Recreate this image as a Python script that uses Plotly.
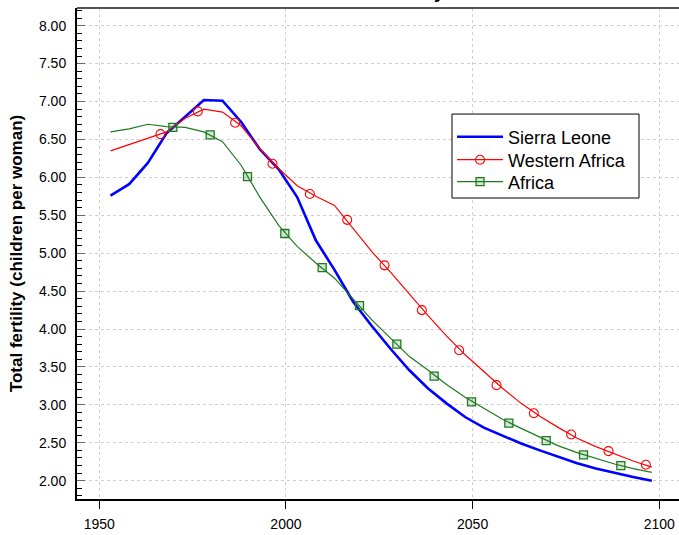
import plotly.graph_objects as go

# ---- data ----
years = [1953, 1958, 1963, 1968, 1973, 1978, 1983, 1988, 1993, 1998,
         2003, 2008, 2013, 2018, 2023, 2028, 2033, 2038, 2043, 2048,
         2053, 2058, 2063, 2068, 2073, 2078, 2083, 2088, 2093, 2098]

sierra_leone = [5.76, 5.91, 6.19, 6.58, 6.80, 7.02, 7.01, 6.73, 6.37, 6.11,
                5.74, 5.17, 4.78, 4.36, 4.04, 3.74, 3.46, 3.22, 3.02, 2.84,
                2.70, 2.59, 2.49, 2.40, 2.31, 2.23, 2.16, 2.10, 2.05, 2.00]

western_africa = [6.35, 6.43, 6.52, 6.60, 6.78, 6.90, 6.86, 6.68, 6.38, 6.12,
                  5.89, 5.75, 5.63, 5.33, 5.02, 4.75, 4.46, 4.18, 3.91, 3.66,
                  3.44, 3.22, 3.02, 2.85, 2.70, 2.56, 2.45, 2.35, 2.26, 2.18]

africa = [6.60, 6.64, 6.70, 6.67, 6.66, 6.60, 6.47, 6.16, 5.74, 5.37,
          5.09, 4.87, 4.67, 4.40, 4.12, 3.88, 3.64, 3.46, 3.27, 3.10,
          2.95, 2.81, 2.69, 2.58, 2.46, 2.37, 2.29, 2.22, 2.16, 2.11]

# marker positions as drawn in the picture
wa_marker_years = [1966.4, 1976.4, 1986.4, 1996.4, 2006.4, 2016.4, 2026.4,
                   2036.4, 2046.4, 2056.4, 2066.4, 2076.4, 2086.4, 2096.4]
wa_marker_vals = [6.57, 6.87, 6.72, 6.18, 5.78, 5.44, 4.84,
                  4.25, 3.72, 3.26, 2.89, 2.61, 2.39, 2.21]

af_marker_years = [1969.7, 1979.7, 1989.7, 1999.7, 2009.7, 2019.7, 2029.7,
                   2039.7, 2049.7, 2059.7, 2069.7, 2079.7, 2089.7]
af_marker_vals = [6.66, 6.56, 6.01, 5.26, 4.81, 4.31, 3.80,
                  3.38, 3.04, 2.76, 2.53, 2.34, 2.20]

series_names = ["Sierra Leone", "Western Africa", "Africa"]
x_ticks = [1950, 2000, 2050, 2100]
title_text = "Total fertility"
y_title = "Total fertility (children per woman)"

# ---- styles ----
BLUE = "#0000FF"
RED = "#FF0000"
GREEN = "#1F7A1F"
FONT = "Liberation Sans, Arial, sans-serif"

fig = go.Figure()

# lines
fig.add_trace(go.Scatter(x=years, y=sierra_leone, mode="lines",
                         line=dict(color=BLUE, width=2.6), showlegend=False,
                         hoverinfo="skip"))
fig.add_trace(go.Scatter(x=years, y=western_africa, mode="lines",
                         line=dict(color=RED, width=1.2), showlegend=False,
                         hoverinfo="skip"))
fig.add_trace(go.Scatter(x=years, y=africa, mode="lines",
                         line=dict(color=GREEN, width=1.2), showlegend=False,
                         hoverinfo="skip"))

# markers
fig.add_trace(go.Scatter(x=wa_marker_years, y=wa_marker_vals, mode="markers",
                         marker=dict(symbol="circle-open", size=9, color=RED,
                                     line=dict(width=1.1, color=RED)),
                         showlegend=False, hoverinfo="skip"))
fig.add_trace(go.Scatter(x=af_marker_years, y=af_marker_vals, mode="markers",
                         marker=dict(symbol="square", size=8,
                                     color="rgba(31,122,31,0.18)",
                                     line=dict(width=1.3, color=GREEN)),
                         showlegend=False, hoverinfo="skip"))

# legend entries (one compact legend per row, framed by one box)
fig.add_trace(go.Scatter(x=[None], y=[None], mode="lines", name=series_names[0],
                         line=dict(color=BLUE, width=2.6), legend="legend"))
fig.add_trace(go.Scatter(x=[None], y=[None], mode="lines+markers", name=series_names[1],
                         line=dict(color=RED, width=1.2), legend="legend2",
                         marker=dict(symbol="circle-open", size=9, color=RED,
                                     line=dict(width=1.1, color=RED))))
fig.add_trace(go.Scatter(x=[None], y=[None], mode="lines+markers", name=series_names[2],
                         line=dict(color=GREEN, width=1.2), legend="legend3",
                         marker=dict(symbol="square", size=8,
                                     color="rgba(31,122,31,0.18)",
                                     line=dict(width=1.3, color=GREEN))))

legend_common = dict(x=0.623, xanchor="left", yanchor="middle",
                     bgcolor="rgba(0,0,0,0)", borderwidth=0,
                     font=dict(family=FONT, size=18, color="black"),
                     itemwidth=46)

fig.update_layout(
    width=679, height=535,
    margin=dict(l=77, r=0, t=8, b=36, pad=0, autoexpand=False),
    paper_bgcolor="white", plot_bgcolor="white",
    font=dict(family=FONT, size=14, color="black"),
    showlegend=True,
    legend=dict(y=0.7373, **legend_common),
    legend2=dict(y=0.6904, **legend_common),
    legend3=dict(y=0.6456, **legend_common),
    xaxis=dict(range=[1944.03, 2105.28], tickvals=x_ticks, automargin=False,
               ticks="outside", ticklen=8, tickwidth=1, tickcolor="black",
               showline=True, linecolor="black", linewidth=2,
               showgrid=True, gridcolor="#CFCFCF", griddash="dot", gridwidth=1,
               zeroline=False, ticklabelstandoff=3,
               tickfont=dict(family=FONT, size=14, color="black")),
    yaxis=dict(range=[1.759, 8.233], dtick=0.5, tick0=0, tickformat=".2f",
               automargin=False,
               ticks="inside", ticklen=8, tickwidth=1, tickcolor="#666666",
               minor=dict(dtick=0.1, ticks="inside", ticklen=5, tickwidth=1,
                          tickcolor="black", showgrid=False),
               showline=True, linecolor="black", linewidth=2,
               showgrid=True, gridcolor="#CFCFCF", griddash="dot", gridwidth=1,
               zeroline=False, ticklabelstandoff=6,
               tickfont=dict(family=FONT, size=14, color="black"),
               title=dict(text=y_title, standoff=12,
                          font=dict(family=FONT, size=17, color="black",
                                    weight="bold"))),
    shapes=[
        dict(type="line", xref="paper", yref="paper", x0=0, x1=1, y0=1, y1=1,
             line=dict(color="#555555", width=2)),
        dict(type="rect", xref="paper", yref="paper", layer="above",
             x0=0.6229, x1=0.9336, y0=0.613, y1=0.784,
             fillcolor="white", line=dict(color="black", width=1)),
    ],
    annotations=[dict(text=title_text, xref="paper", yref="paper", x=0.517, y=1,
                      xanchor="center", yanchor="middle", yshift=17, showarrow=False,
                      font=dict(family=FONT, size=19, color="black", weight="bold"))],
)

fig.write_html("out.html",
               config={"displayModeBar": False},
               post_script="document.body.style.margin='0';"
                           "document.body.style.overflow='hidden';")
